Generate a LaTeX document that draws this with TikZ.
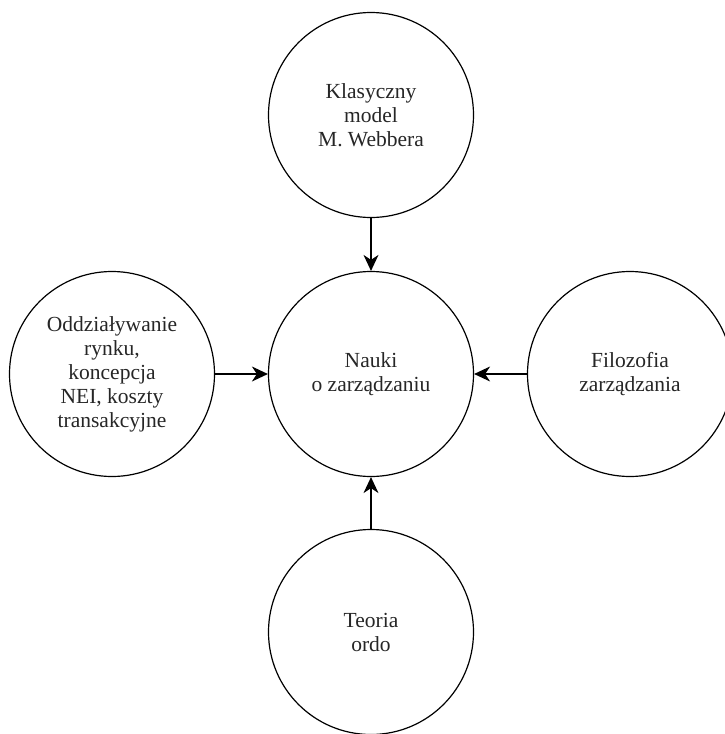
\documentclass[tikz,border=0pt]{standalone}
\usepackage{fontspec}
\setmainfont{Liberation Serif}
\usetikzlibrary{arrows.meta}
\begin{document}
\begin{tikzpicture}[x=1pt,y=-1pt,
  bub/.style={draw, circle, line width=1.2pt, minimum size=205pt, inner sep=0pt, align=center,
    font=\fontsize{21.5}{24}\selectfont, text=black!85},
  arr/.style={line width=1.2pt, -{Stealth[length=16pt,width=15pt,inset=5pt]}}]
\useasboundingbox (0,0) rectangle (724,734);
\node[bub] (c) at (371,374) {Nauki\\o zarządzaniu};
\node[bub] (t) at (371,115) {Klasyczny\\model\\M. Webbera};
\node[bub] (l) at (112,374) {Oddziaływanie\\rynku,\\koncepcja\\NEI, koszty\\transakcyjne};
\node[bub] (r) at (630,374) {Filozofia\\zarządzania};
\node[bub] (b) at (371,632) {Teoria\\ordo};
\draw[arr] (t) -- (c);
\draw[arr] (l) -- (c);
\draw[arr] (r) -- (c);
\draw[arr] (b) -- (c);
\end{tikzpicture}
\end{document}
